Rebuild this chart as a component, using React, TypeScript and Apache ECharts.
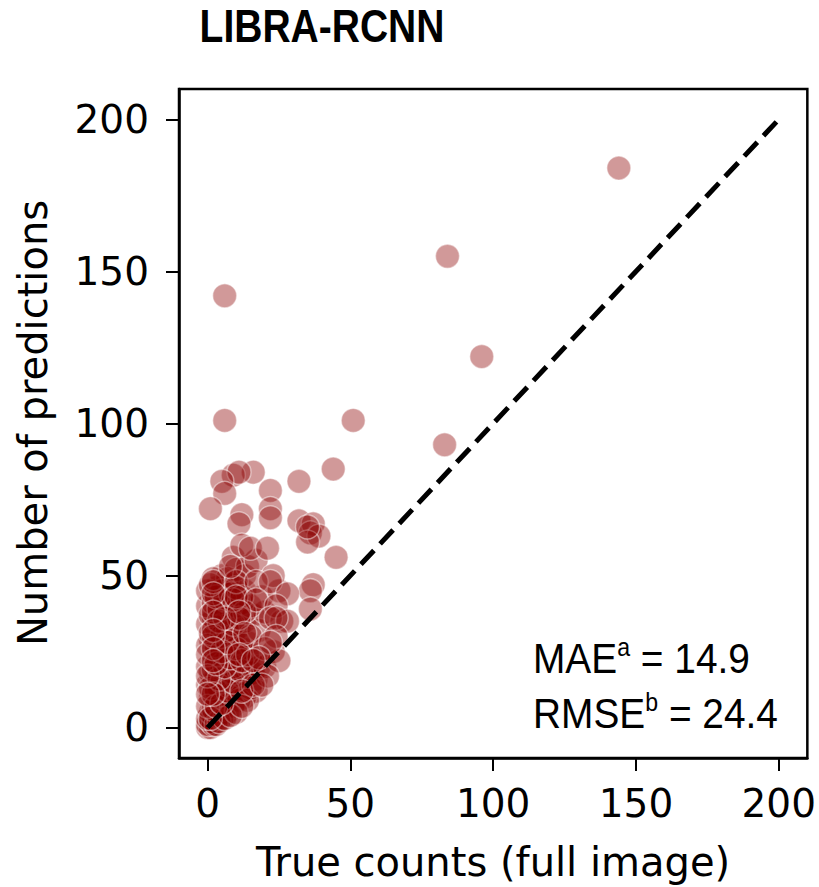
import React, { useEffect, useRef } from "react";
import * as echarts from "echarts";

const titleText = "LIBRA-RCNN";
const xAxisTitle = "True counts (full image)";
const yAxisTitle = "Number of predictions";
const tickValues = [0, 50, 100, 150, 200];
const axisMin = -10;
const axisMax = 210;
const identityLine = [
  [0, 0],
  [200, 200],
];
const maeLabel = "MAE";
const maeSup = "a";
const maeValue = "14.9";
const rmseLabel = "RMSE";
const rmseSup = "b";
const rmseValue = "24.4";

// [true count, predicted count]
const sparsePoints = [
  [144, 184], [84, 155], [6, 142], [96, 122], [6, 101], [51, 101], [83, 93],
  [44, 85], [32, 81], [16, 84], [9, 83], [11, 84], [5, 81], [6, 77], [22, 78],
  [1, 72], [12, 70], [11, 67], [22, 72], [22, 69], [32, 68], [37, 67], [36, 64],
  [39, 63], [35, 61], [35, 66], [12, 60], [15, 59], [21, 59], [45, 56], [8, 53],
];
const middlePoints = [
  [2, 49], [2, 48], [10, 48], [17, 48], [22, 48], [37, 47], [36, 45], [28, 44],
  [2, 44], [10, 43], [17, 42], [24, 40], [36, 39], [2, 38], [11, 38], [22, 36],
  [28, 35], [24, 36], [2, 32], [13, 31], [24, 30], [20, 26], [22, 28], [18, 23],
  [2, 26], [11, 24], [16, 22], [2, 22], [16, 14], [12, 12], [19, 14],
];
const densePoints = [
  [0, 0], [1, 1], [1, 0], [2, 2], [0, 1], [1, 2], [2, 1], [3, 3], [2, 4], [3, 5],
  [4, 4], [1, 5], [0, 3], [5, 6], [4, 8], [2, 8], [6, 7], [7, 9], [5, 10], [3, 10],
  [1, 10], [8, 10], [9, 12], [6, 12], [4, 13], [2, 14], [0, 14], [10, 13], [8, 15],
  [11, 15], [12, 17], [6, 16], [3, 17], [1, 18], [5, 19], [9, 18], [13, 19], [7, 21],
  [4, 22], [0, 20], [10, 22], [14, 20], [2, 24], [6, 25], [8, 27], [12, 26], [4, 28],
  [1, 29], [9, 30], [6, 31], [3, 33], [0, 34], [7, 35], [11, 33], [14, 28], [5, 37],
  [2, 36], [8, 39], [4, 41], [0, 40], [10, 40], [6, 44], [3, 46], [13, 45], [8, 47],
  [15, 24], [17, 16], [16, 18], [17, 12], [13, 10], [11, 9], [7, 5], [9, 7], [5, 3],
  [3, 1], [4, 2], [2, 6], [6, 3], [18, 20], [15, 13], [14, 9], [10, 5], [8, 4],
  [12, 7], [3, 12], [0, 7], [1, 13], [5, 15], [2, 19], [7, 24], [9, 20], [11, 28],
  [13, 35], [12, 41], [5, 50], [9, 56], [7, 49], [10, 52], [13, 50], [0, 45], [2, 41],
  [16, 37], [18, 32], [20, 38], [15, 40], [19, 43], [25, 45], [14, 53], [17, 55],
  [23, 50], [5, 45], [20, 20], [23, 25], [25, 22], [21, 17], [26, 35],
  [1, 3], [3, 7], [5, 8], [7, 12], [9, 15], [11, 19], [4, 16], [2, 11], [6, 20],
  [8, 23], [10, 26], [3, 27], [5, 30], [7, 32], [9, 34], [1, 37], [4, 39], [6, 42],
  [8, 44], [10, 46], [12, 43], [3, 43], [1, 47], [0, 27], [0, 24], [0, 17], [0, 11],
  [1, 31], [3, 21], [5, 25], [7, 28], [12, 22], [14, 24], [15, 30], [13, 38], [11, 36],
  [9, 42], [4, 35], [2, 30], [6, 36],
];

const SANS = "'Liberation Sans', Arial, sans-serif";
const DEJAVU = "'DejaVu Sans', sans-serif";

export default function App() {
  const ref = useRef<HTMLDivElement>(null);
  useEffect(() => {
    if (!ref.current) return;
    const chart = echarts.init(ref.current, null, { renderer: "svg" });
    const allPoints = [...densePoints, ...middlePoints, ...sparsePoints];
    const axisCommon = {
      type: "value",
      min: axisMin,
      max: axisMax,
      axisLine: { show: true, onZero: false, lineStyle: { color: "#000", width: 2.5 } },
      axisTick: {
        show: true,
        inside: false,
        length: 13,
        lineStyle: { color: "#000", width: 2 },
        customValues: tickValues,
      },
      axisLabel: {
        customValues: tickValues,
        fontFamily: DEJAVU,
        fontSize: 39,
        color: "#000",
      },
      splitLine: { show: false },
    };
    const richStyles = {
      n: { fontSize: 42, fontFamily: SANS, fill: "#000", lineHeight: 46 },
      s: { fontSize: 25, fontFamily: SANS, fill: "#000", verticalAlign: "top", lineHeight: 34 },
    };
    chart.setOption({
      animation: false,
      backgroundColor: "#fff",
      grid: {
        left: 179,
        top: 89,
        right: 10,
        bottom: 129,
        show: true,
        borderColor: "#000",
        borderWidth: 2.5,
        backgroundColor: "#fff",
      },
      xAxis: { ...axisCommon, axisLabel: { ...axisCommon.axisLabel, margin: 26 } },
      yAxis: { ...axisCommon, axisLabel: { ...axisCommon.axisLabel, margin: 30 } },
      series: [
        {
          type: "scatter",
          data: allPoints,
          symbolSize: 24,
          itemStyle: {
            color: "rgba(139,0,0,0.5)",
            borderColor: "rgba(255,255,255,0.55)",
            borderWidth: 1.5,
          },
          z: 2,
        },
        {
          type: "line",
          data: identityLine,
          symbol: "none",
          lineStyle: { color: "#000", width: 5, type: [19, 9] },
          z: 3,
        },
      ],
      graphic: [
        {
          type: "text",
          x: 322,
          y: 26,
          scaleX: 0.83,
          style: {
            text: titleText,
            font: `bold 47px ${SANS}`,
            fill: "#000",
            textAlign: "center",
            textVerticalAlign: "middle",
          },
        },
        {
          type: "text",
          x: 493,
          y: 862,
          style: {
            text: xAxisTitle,
            font: `40px ${DEJAVU}`,
            fill: "#000",
            textAlign: "center",
            textVerticalAlign: "middle",
          },
        },
        {
          type: "text",
          x: 33,
          y: 423,
          rotation: Math.PI / 2,
          style: {
            text: yAxisTitle,
            font: `40px ${DEJAVU}`,
            fill: "#000",
            textAlign: "center",
            textVerticalAlign: "middle",
          },
        },
        {
          type: "text",
          x: 533,
          y: 658,
          scaleX: 0.925,
          style: {
            text: `{n|${maeLabel}}{s|${maeSup}}{n| = ${maeValue}}`,
            textAlign: "left",
            textVerticalAlign: "middle",
            rich: richStyles,
          },
        },
        {
          type: "text",
          x: 533,
          y: 713,
          scaleX: 0.925,
          style: {
            text: `{n|${rmseLabel}}{s|${rmseSup}}{n| = ${rmseValue}}`,
            textAlign: "left",
            textVerticalAlign: "middle",
            rich: richStyles,
          },
        },
      ],
    });
    return () => chart.dispose();
  }, []);
  return (
    <div
      ref={ref}
      style={{ position: "absolute", left: 0, top: 0, width: 819, height: 887 }}
    />
  );
}
